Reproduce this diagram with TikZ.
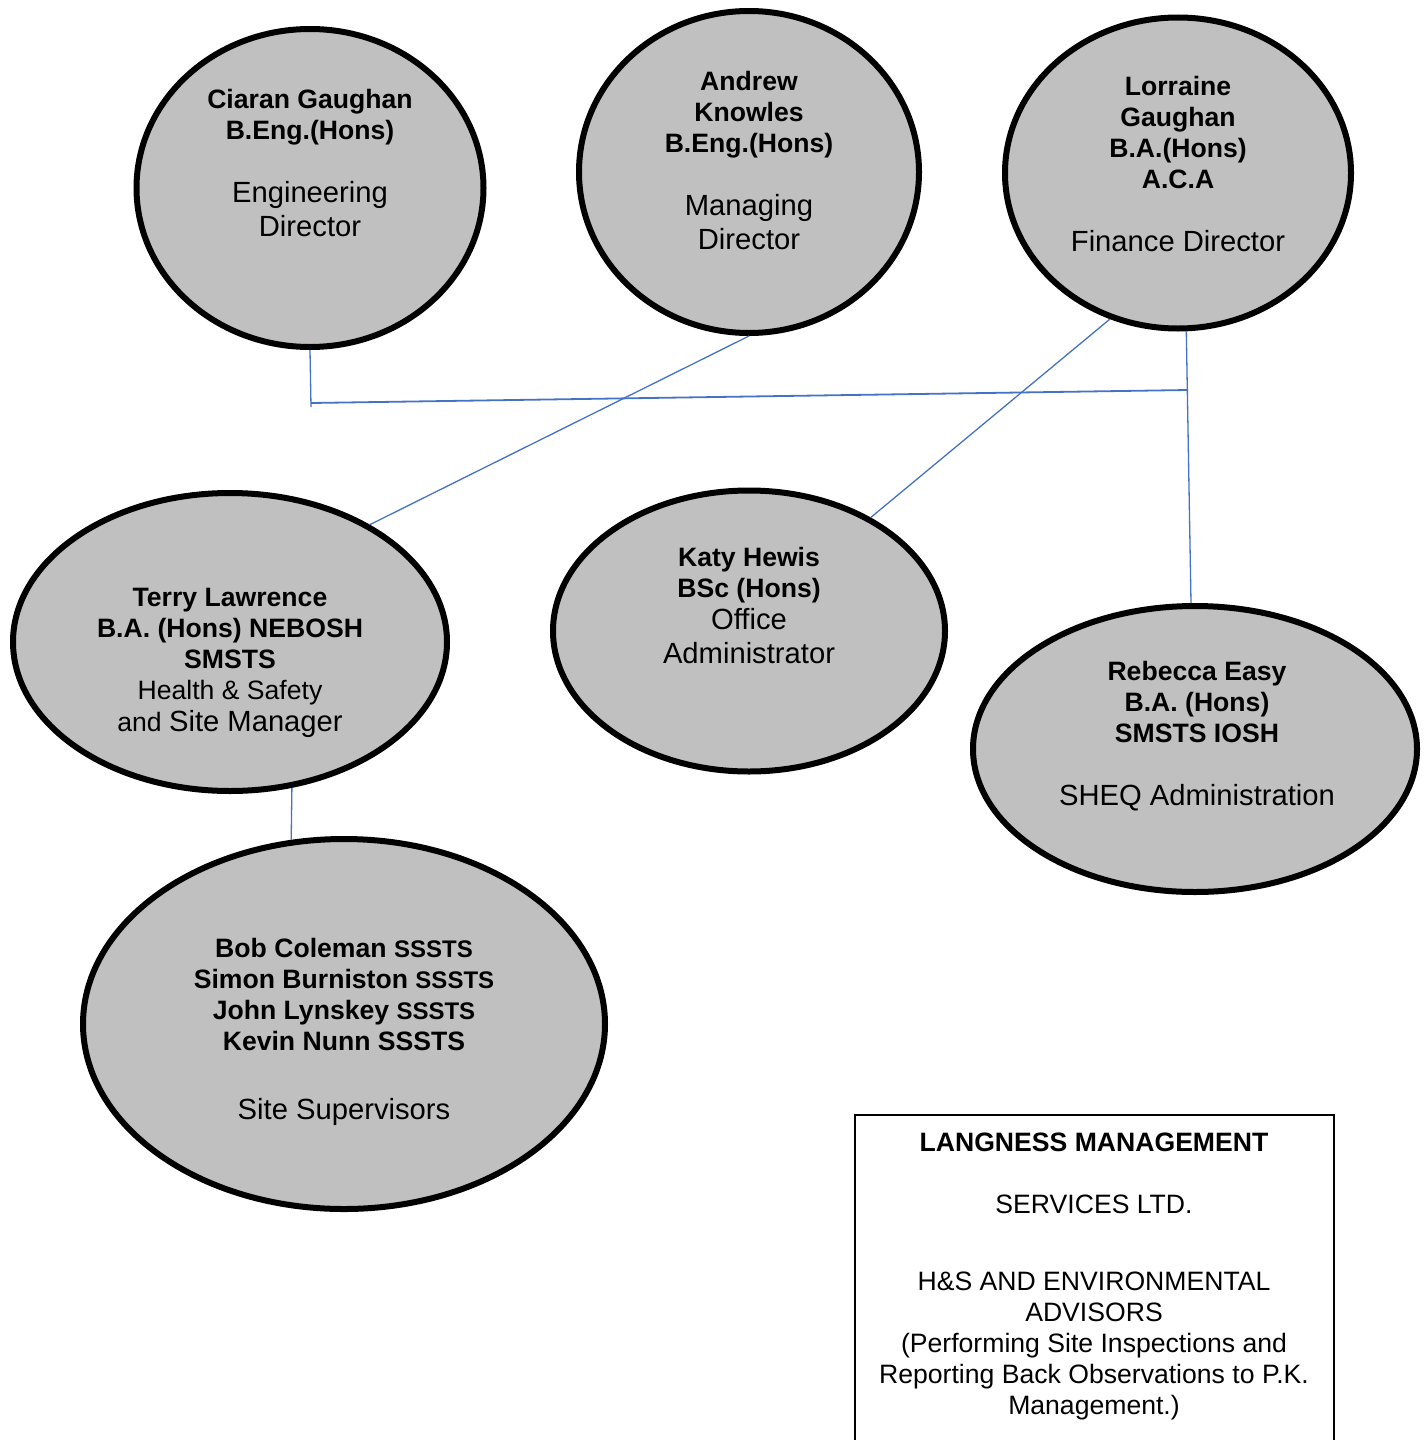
\documentclass[tikz,border=0pt]{standalone}
\usepackage{fontspec}
\setmainfont{Liberation Sans}
\usetikzlibrary{shapes.geometric}

\definecolor{fillgray}{HTML}{C0C0C0}
\definecolor{linkblue}{HTML}{4472C4}

\newcommand{\rolefont}{\fontsize{14.6}{17}\selectfont\mdseries}
\newcommand{\plainfont}{\fontsize{13.3}{15.5}\selectfont\mdseries}
\newcommand{\smallbf}{\fontsize{12}{15.5}\selectfont}

\tikzset{
    person/.style={ellipse, draw=black, line width=3pt, fill=fillgray, inner sep=0pt},
    names/.style={align=center, inner sep=0pt, font=\fontsize{13.3}{15.5}\selectfont\bfseries},
    link/.style={draw=linkblue, line width=0.65pt},
}

\begin{document}
\begin{tikzpicture}[x=0.5pt, y=-0.5pt]
    \useasboundingbox (0,0) rectangle (1428,1440);

    % Directors
    \node[person, minimum width=173.5pt, minimum height=159pt] (ciaran) at (310,188) {};
    \node[names] (ciaran-txt) at (310,163) {Ciaran Gaughan\\B.Eng.(Hons)\\[16pt]
        \rolefont Engineering\\[1.5pt]\rolefont Director};

    \node[person, minimum width=170pt, minimum height=161pt] (andrew) at (749,172) {};
    \node[names] (andrew-txt) at (749,161) {Andrew\\Knowles\\B.Eng.(Hons)\\[16pt]
        \rolefont Managing\\[1.5pt]\rolefont Director};

    \node[person, minimum width=173pt, minimum height=155.5pt] (lorraine) at (1178,173) {};
    \node[names] (lorraine-txt) at (1178,164) {Lorraine\\Gaughan\\B.A.(Hons)\\A.C.A\\[16pt]
        \rolefont Finance Director};

    % Staff
    \node[person, minimum width=217pt, minimum height=149pt] (terry) at (230,642) {};
    \node[names] (terry-txt) at (230,663) {Terry Lawrence\\B.A. (Hons) NEBOSH\\SMSTS\\
        \plainfont Health \& Safety\\[0.5pt]\plainfont and \rolefont Site Manager};

    \node[person, minimum width=196pt, minimum height=140.5pt] (katy) at (749,631) {};
    \node[names] (katy-txt) at (749,605) {Katy Hewis\\BSc (Hons)\\[0.5pt]
        \rolefont Office\\[1.5pt]\rolefont Administrator};

    \node[person, minimum width=222pt, minimum height=143pt] (rebecca) at (1195,749) {};
    \node[names] (rebecca-txt) at (1197,736) {Rebecca Easy\\B.A. (Hons)\\SMSTS IOSH\\[16pt]
        \rolefont SHEQ Administration};

    \node[person, minimum width=261pt, minimum height=185pt] (bob) at (344,1024) {};
    \node[names] (bob-txt) at (344,1032) {Bob Coleman {\smallbf SSSTS}\\Simon Burniston {\smallbf SSSTS}\\
        John Lynskey {\smallbf SSSTS}\\Kevin Nunn SSSTS\\[19pt]\rolefont Site Supervisors};

    % Consultants box
    \draw[line width=0.75pt] (855,1115) rectangle (1334,1450);
    \node[names] (langness) at (1094,1276) {LANGNESS MANAGEMENT\\[15.5pt]
        \plainfont SERVICES LTD.\\[23pt]
        \plainfont H\&S AND ENVIRONMENTAL\\\plainfont ADVISORS\\
        \plainfont (Performing Site Inspections and\\
        \plainfont Reporting Back Observations to P.K.\\\plainfont Management.)};

    % Connectors
    \coordinate (tick-end) at (311,407);
    \coordinate (bar-l) at (311,403);
    \coordinate (bar-r) at (1188,390);
    \draw[link] (ciaran.south) -- (tick-end);
    \draw[link, line width=0.9pt] (bar-l) -- (bar-r);
    \draw[link] (lorraine.273) -- ([xshift=-2pt]rebecca.north);
    \draw[link] (andrew.south) -- (terry.40);
    \draw[link] (lorraine.245) -- (katy.43);
    \draw[link] (terry.293) -- (bob.106);

\end{tikzpicture}
\end{document}
